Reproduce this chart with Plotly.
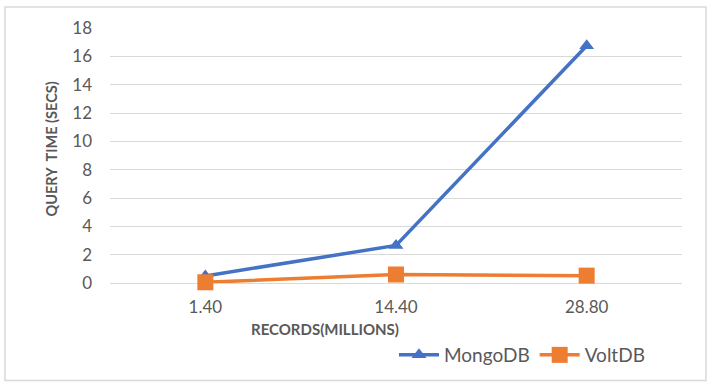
import plotly.graph_objects as go

categories = ["1.40", "14.40", "28.80"]
mongodb = [0.5, 2.65, 16.75]
voltdb = [0.05, 0.6, 0.52]
y_ticks = [0, 2, 4, 6, 8, 10, 12, 14, 16, 18]

BLUE = "#4472C4"
ORANGE = "#ED7D31"
GRID = "#D9D9D9"
TXT = "#595959"
FONT = "Lato, Open Sans, sans-serif"

fig = go.Figure()
fig.add_trace(go.Scatter(
    x=categories, y=mongodb, name="MongoDB", mode="lines+markers",
    line=dict(color=BLUE, width=3.5),
    marker=dict(symbol="triangle-up", size=13, color=BLUE),
    cliponaxis=False,
))
fig.add_trace(go.Scatter(
    x=categories, y=voltdb, name="VoltDB", mode="lines+markers",
    line=dict(color=ORANGE, width=3.5),
    marker=dict(symbol="square", size=16, color=ORANGE),
    cliponaxis=False,
))

L, R, T, B = 110, 27, 28, 101
W, H = 709, 385
pw, ph = W - L - R, H - T - B

def px(x):
    return (x - L) / pw

def py(y):
    return (H - B - y) / ph

fig.add_shape(type="rect", xref="paper", yref="paper",
              x0=px(5), x1=px(706), y0=py(382), y1=py(7),
              line=dict(color=GRID, width=1.5), layer="below")

fig.add_annotation(text="<b>RECORDS(MILLIONS)</b>", xref="paper", yref="paper",
                   x=px(325), y=py(330), xanchor="center", yanchor="middle",
                   showarrow=False,
                   font=dict(family=FONT, size=15, color=TXT))
fig.add_annotation(text="<b>QUERY  TIME (SECS)</b>", xref="paper", yref="paper",
                   x=px(52), y=py(150), xanchor="center", yanchor="middle",
                   showarrow=False, textangle=-90,
                   font=dict(family=FONT, size=14.5, color=TXT))

fig.update_layout(
    width=W, height=H,
    margin=dict(l=L, r=R, t=T, b=B),
    paper_bgcolor="white", plot_bgcolor="white",
    font=dict(family=FONT, color=TXT, size=17),
    showlegend=True,
    legend=dict(orientation="h", x=px(394), y=py(355), xanchor="left", yanchor="middle",
                font=dict(family=FONT, size=19, color=TXT), itemwidth=40,
                tracegroupgap=0, bgcolor="rgba(0,0,0,0)"),
    xaxis=dict(type="category", range=[-0.5, 2.5], showgrid=False, zeroline=False,
               showline=False, ticks="", ticklabelstandoff=12,
               tickfont=dict(size=17, color=TXT)),
    yaxis=dict(range=[0, 18], tickvals=y_ticks, showgrid=True, gridcolor=GRID,
               gridwidth=1, zeroline=True, zerolinecolor=GRID, zerolinewidth=1,
               showline=False, ticks="", ticklabelstandoff=17,
               tickfont=dict(size=17, color=TXT)),
)

fig.write_html("out.html")
